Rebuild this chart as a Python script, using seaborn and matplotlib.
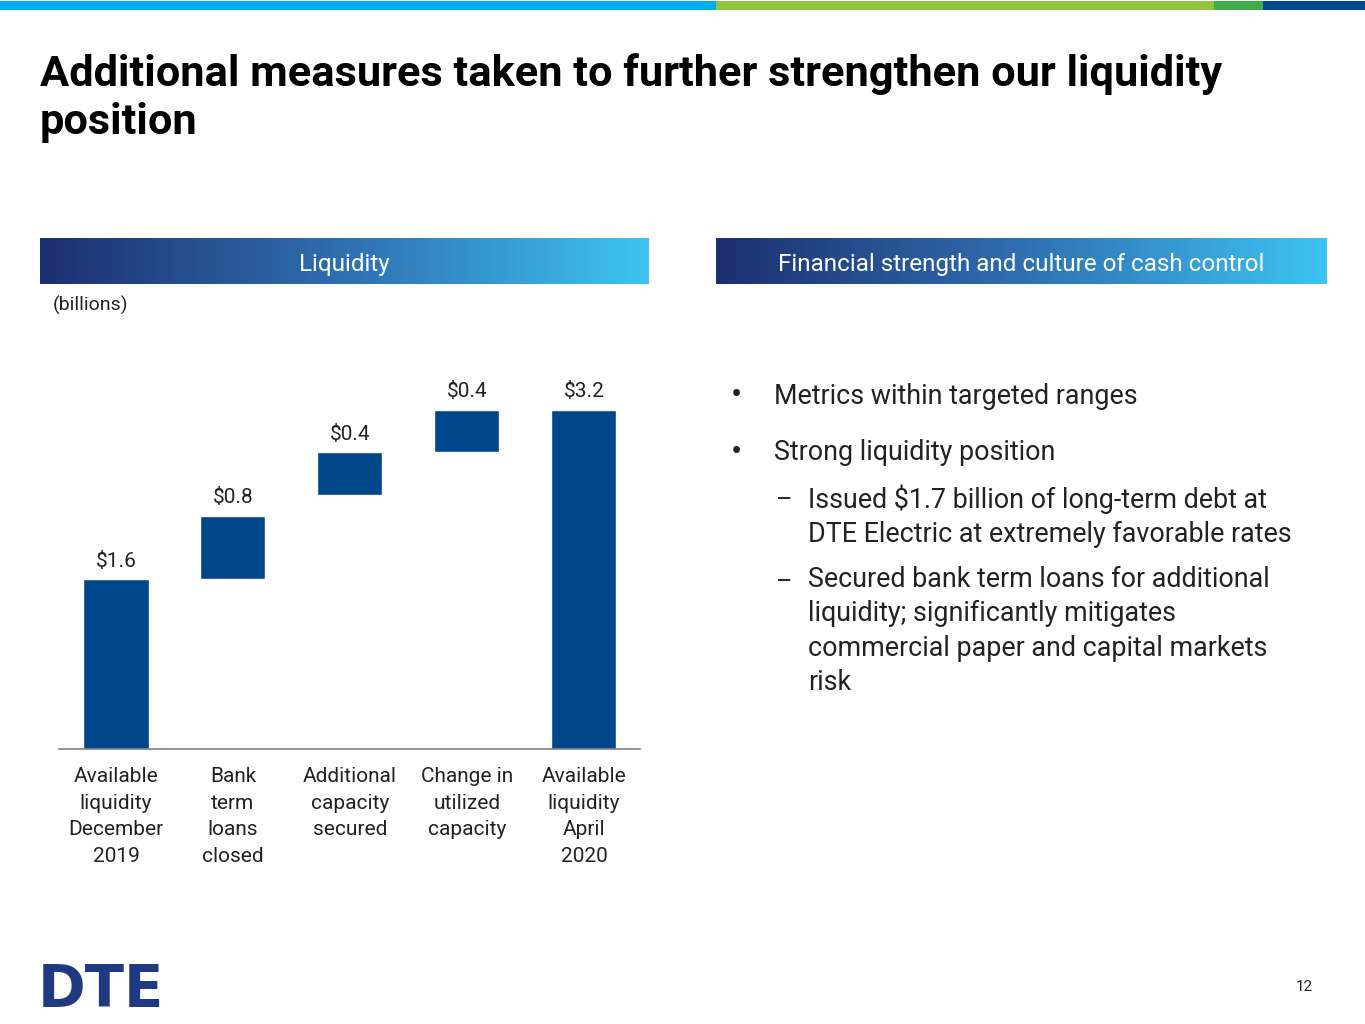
import numpy as np
import pandas as pd
import seaborn as sns
import matplotlib.pyplot as plt
from matplotlib.colors import LinearSegmentedColormap

sns.set_theme(style="white")
plt.rcParams["font.family"] = ["Roboto", "DejaVu Sans"]

# chart values
steps = ["Available\nliquidity\nDecember\n2019", "Bank\nterm\nloans\nclosed",
         "Additional\ncapacity\nsecured", "Change in\nutilized\ncapacity",
         "Available\nliquidity\nApril\n2020"]
heights = [1.6, 0.6, 0.4, 0.4, 3.2]      # drawn bar heights
bottoms = [0.0, 1.6, 2.4, 2.8, 0.0]      # drawn bar bottoms
labels = ["$1.6", "$0.8", "$0.4", "$0.4", "$3.2"]

bullets = ["Metrics within targeted ranges", "Strong liquidity position"]
subs = ["Issued $1.7 billion of long-term debt at\nDTE Electric at extremely favorable rates",
        "Secured bank term loans for additional\nliquidity; significantly mitigates\ncommercial paper and capital markets\nrisk"]

W, H = 1365, 1024
BAR = "#00468b"
NAVY = "#1f3a80"
INK = "#222222"

fig = plt.figure(figsize=(W / 100, H / 100), dpi=100)

def fx(x):
    return x / W

def fy(y):
    return 1 - y / H

def box(x0, y0, x1, y1):
    return fig.add_axes([fx(x0), fy(y1), fx(x1 - x0), (y1 - y0) / H])

# top colour strip
for x0, x1, c in [(0, 716, "#00adef"), (716, 1214, "#8dc63f"),
                  (1214, 1263, "#3fae49"), (1263, W, "#004b8d")]:
    a = box(x0, 1, x1, 10)
    a.set_facecolor(c)
    a.set_xticks([]); a.set_yticks([])
    for s in a.spines.values():
        s.set_visible(False)

# title
fig.text(fx(40), fy(53), "Additional measures taken to further strengthen our liquidity\nposition",
         fontsize=31.2, fontweight="bold", color="black", va="top", ha="left", linespacing=1.23)

# gradient headers
cmap = LinearSegmentedColormap.from_list("hdr", ["#1d2f6f", "#2f6fb0", "#3ec4f4"])
grad = np.linspace(0, 1, 256).reshape(1, -1)
for (x0, x1), txt in [((40, 649), "Liquidity"), ((716, 1326), "Financial strength and culture of cash control")]:
    a = box(x0, 238, x1, 284)
    a.imshow(grad, aspect="auto", cmap=cmap, extent=[0, 1, 0, 1])
    a.set_xticks([]); a.set_yticks([])
    for s in a.spines.values():
        s.set_visible(False)
    a.text(0.5, 0.43, txt, color="white", fontsize=17.5, ha="center", va="center",
           transform=a.transAxes)

fig.text(fx(53), fy(305), "(billions)", fontsize=14, va="center", ha="left", color=INK)

# waterfall chart
df = pd.DataFrame({"step": steps, "height": heights})
ax = box(59, 380, 640, 749)
sns.barplot(data=df, x="step", y="height", color=BAR, saturation=1, width=0.556, ax=ax)
for p, b in zip(ax.patches, bottoms):
    p.set_y(b)
for i, (h, b, lab) in enumerate(zip(heights, bottoms, labels)):
    ax.annotate(lab, (i, h + b), xytext=(0, 6), textcoords="offset points",
                ha="center", va="bottom", fontsize=15, color=INK)
ax.set_xlim(-0.487, 4.479)
ax.set_ylim(0, 3.48)
ax.set_xlabel("")
ax.set_ylabel("")
ax.set_yticks([])
ax.tick_params(axis="x", length=0, pad=13, labelsize=15, labelcolor=INK)
for lab in ax.get_xticklabels():
    lab.set_linespacing(1.5)
for s in ["top", "right", "left"]:
    ax.spines[s].set_visible(False)
ax.spines["bottom"].set_color("#7f7f7f")
ax.spines["bottom"].set_linewidth(1.2)

# bullet text on the right
for y, t in zip([396, 453], bullets):
    fig.text(fx(731), fy(y), "•", fontsize=24, va="center", ha="left", color=INK)
    fig.text(fx(774), fy(y), t, fontsize=19.4, va="center", ha="left", color=INK)
for y, t in zip([484, 566], subs):
    fig.text(fx(776), fy(y + 16), "–", fontsize=18, va="center", ha="left", color=INK)
    fig.text(fx(808), fy(y), t, fontsize=19.4, va="top", ha="left", color=INK,
             linespacing=1.345)

# logo and page number
fig.text(fx(38), fy(1007), "DTE", fontsize=41.5, fontweight="heavy", color=NAVY,
         family="DejaVu Sans", va="baseline", ha="left")
fig.text(fx(1304), fy(987), "12", fontsize=11, va="center", ha="center", color=INK)

fig.savefig("out.png", dpi=100)
